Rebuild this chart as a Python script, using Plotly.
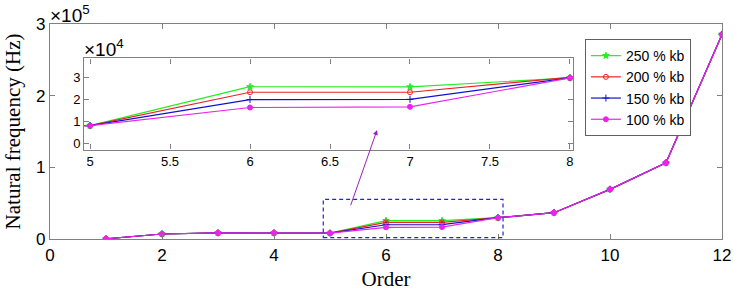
import plotly.graph_objects as go

orders = [1, 2, 3, 4, 5, 6, 7, 8, 9, 10, 11, 12]
labels = ["250 % kb", "200 % kb", "150 % kb", "100 % kb"]
f250 = [300, 7000, 8500, 8500, 8100, 25700, 25600, 29700, 36700, 69300, 106400, 285500]
f200 = [300, 7000, 8500, 8500, 8100, 23200, 23200, 29700, 36700, 69300, 106400, 285500]
f150 = [300, 7000, 8500, 8500, 8100, 19900, 20000, 29700, 36700, 69300, 106400, 285500]
f100 = [300, 7000, 8500, 8500, 8100, 16300, 16600, 29700, 36700, 69300, 106400, 285500]
series = [f250, f200, f150, f100]
colors = ["#22ee22", "#ee2222", "#1111cc", "#ee22ee"]
symbols = ["star", "circle-open", "cross-thin-open", "circle"]

main_xticks = [0, 2, 4, 6, 8, 10, 12]
main_yticks = [0, 1e5, 2e5, 3e5]
main_ytext = ["0", "1", "2", "3"]
inset_xticks = [5, 5.5, 6, 6.5, 7, 7.5, 8]
inset_xtext = ["5", "5.5", "6", "6.5", "7", "7.5", "8"]
inset_yticks = [0, 1e4, 2e4, 3e4]
inset_ytext = ["0", "1", "2", "3"]

fig = go.Figure()
for vals, lab, c, s in zip(series, labels, colors, symbols):
    fig.add_trace(go.Scatter(x=orders, y=vals, name=lab, mode="lines+markers",
                             line=dict(color=c, width=1.2),
                             marker=dict(symbol=s, size=5, color=c, line=dict(color=c, width=1)),
                             xaxis="x", yaxis="y"))
for vals, lab, c, s in zip(series, labels, colors, symbols):
    fig.add_trace(go.Scatter(x=orders, y=vals, name=lab, mode="lines+markers", showlegend=False,
                             line=dict(color=c, width=1.2),
                             marker=dict(symbol=s, size=5, color=c, line=dict(color=c, width=1)),
                             xaxis="x2", yaxis="y2"))

axcommon = dict(showgrid=False, zeroline=False, showline=True, linecolor="#808080", linewidth=1.3,
                mirror="ticks", ticks="inside", ticklen=5, tickcolor="#808080", automargin=False,
                tickfont=dict(family="Liberation Sans, Arial", size=17, color="black"))
insetfont = dict(family="Liberation Sans, Arial", size=13, color="black")

fig.update_layout(
    width=735, height=291,
    margin=dict(l=50, r=13, t=24, b=52),
    paper_bgcolor="white", plot_bgcolor="white",
    xaxis=dict(**axcommon, range=[0, 12], tickvals=main_xticks, domain=[0, 1],
               title=dict(text="Order", font=dict(family="Liberation Serif, Times New Roman", size=21, color="black"), standoff=8)),
    yaxis=dict(**axcommon, range=[0, 3e5], tickvals=main_yticks, ticktext=main_ytext, domain=[0, 1],
               title=dict(text="Natural frequency (Hz)", font=dict(family="Liberation Serif, Times New Roman", size=21, color="black"), standoff=9)),
    xaxis2=dict(**{**axcommon, "tickfont": insetfont},
                range=[4.964, 8.022], tickvals=inset_xticks, ticktext=inset_xtext,
                domain=[0.051, 0.779], anchor="y2"),
    yaxis2=dict(**{**axcommon, "tickfont": insetfont},
                range=[-2700, 38500], tickvals=inset_yticks, ticktext=inset_ytext,
                domain=[0.416, 0.840], anchor="x2"),
    legend=dict(x=0.796, y=0.93, xanchor="left", yanchor="top", bgcolor="white",
                bordercolor="#606060", borderwidth=1, itemwidth=30, tracegroupgap=0,
                font=dict(family="Liberation Sans, Arial", size=14, color="black")),
    showlegend=True,
)

fig.add_shape(type="rect", xref="x", yref="y", x0=4.88, x1=8.09, y0=1800, y1=55300,
              line=dict(color="#2222dd", width=1.2, dash="4px,3px"))

fig.add_annotation(xref="x", yref="y", axref="x", ayref="y", x=5.84, y=152000, ax=5.36, ay=45000,
                   text="", showarrow=True, arrowhead=2, arrowsize=1, arrowwidth=1, arrowcolor="#9922bb")

fig.add_annotation(xref="paper", yref="paper", x=0, y=1.0, xanchor="left", yanchor="bottom",
                   text="×10<sup>5</sup>", showarrow=False, xshift=-2, yshift=-4,
                   font=dict(family="Liberation Sans, Arial", size=19, color="black"))
fig.add_annotation(xref="paper", yref="paper", x=0.051, y=0.840, xanchor="left", yanchor="bottom",
                   text="×10<sup>4</sup>", showarrow=False, xshift=-2, yshift=-4,
                   font=dict(family="Liberation Sans, Arial", size=19, color="black"))

fig.write_html("out.html", config={"displayModeBar": False},
               post_script="document.body.style.margin='0';document.body.style.overflow='hidden';")
